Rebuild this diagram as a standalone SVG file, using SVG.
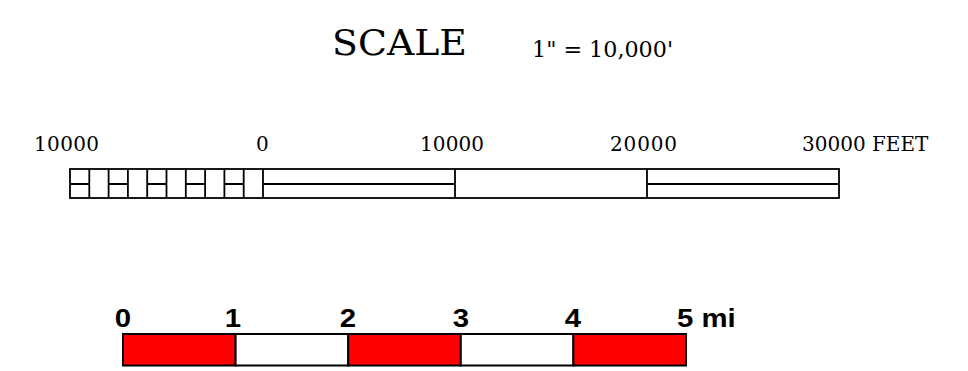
<svg xmlns="http://www.w3.org/2000/svg" width="968" height="371" viewBox="0 0 968 371">
<style>
.serif{font-family:"DejaVu Serif","Liberation Serif",serif;fill:#000}
.lbl{font-size:20px}
.bold{font-family:"Liberation Sans",Arial,sans-serif;font-weight:bold;font-size:25.5px;fill:#000}
.ln{stroke:#000;stroke-width:1.8;fill:none}
.bx{stroke:#000;stroke-width:2}
</style>
<rect width="968" height="371" fill="#fff"/>
<g id="title">
<text class="serif" x="332" y="55" font-size="35" textLength="135" lengthAdjust="spacingAndGlyphs">SCALE</text>
<text class="serif" x="532" y="57" font-size="22" textLength="141" lengthAdjust="spacingAndGlyphs" xml:space="preserve">1" = 10,000'</text>
</g>
<g id="feet-scale">
<g id="feet-labels" class="serif lbl">
<text x="34" y="151" textLength="65">10000</text>
<text x="256" y="151">0</text>
<text x="420" y="151" textLength="64">10000</text>
<text x="610" y="151" textLength="67">20000</text>
<text x="802" y="151">30000 FEET</text>
</g>
<g id="feet-bar" class="ln">
<rect x="70" y="169" width="769" height="29" fill="#fff"/>
<path d="M89.3 169V198M108.6 169V198M127.9 169V198M147.2 169V198M166.5 169V198M185.8 169V198M205.1 169V198M224.4 169V198M243.7 169V198M263 169V198M455 169V198M647 169V198"/>
<path d="M70 184H89.3M108.6 184H127.9M147.2 184H166.5M185.8 184H205.1M224.4 184H243.7M263 184H455M647 184H839"/>
</g>
</g>
<g id="mile-scale">
<g id="mile-labels" class="bold" text-anchor="middle">
<text transform="translate(123 327) scale(1.15 1)">0</text>
<text transform="translate(233 327) scale(1.15 1)">1</text>
<text transform="translate(348 327) scale(1.15 1)">2</text>
<text transform="translate(461 327) scale(1.15 1)">3</text>
<text transform="translate(573 327) scale(1.15 1)">4</text>
<text transform="translate(677 327) scale(1.15 1)" text-anchor="start">5 mi</text>
</g>
<g id="mile-bar" class="bx">
<rect x="123" y="334" width="112.6" height="31.5" fill="#ff0000"/>
<rect x="235.6" y="334" width="112.6" height="31.5" fill="#fff"/>
<rect x="348.2" y="334" width="112.6" height="31.5" fill="#ff0000"/>
<rect x="460.8" y="334" width="112.6" height="31.5" fill="#fff"/>
<rect x="573.4" y="334" width="112.6" height="31.5" fill="#ff0000"/>
</g>
</g>
</svg>
